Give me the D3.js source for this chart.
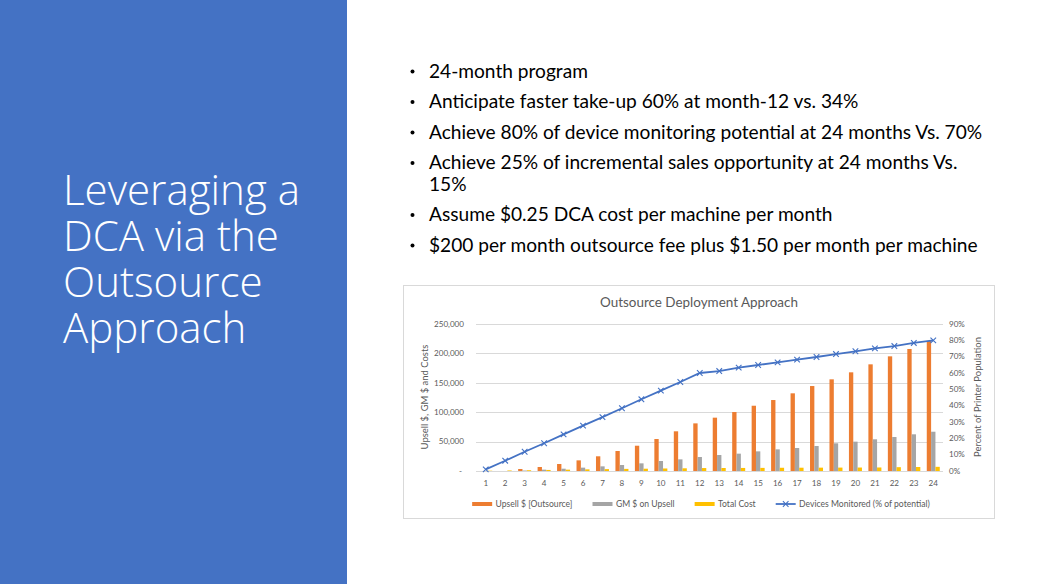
<!DOCTYPE html>
<html>
<head>
<meta charset="utf-8">
<script src="https://cdn.jsdelivr.net/npm/d3@7"></script>
<style>
  body { margin: 0; background: #fff; }
  svg { display: block; }
</style>
</head>
<body>
<svg id="slide"></svg>
<script>
// ---- data ----
const titleLines = ["Leveraging a", "DCA via the", "Outsource", "Approach"];
const bullets = [
  ["24-month program"],
  ["Anticipate faster take-up 60% at month-12 vs. 34%"],
  ["Achieve 80% of device monitoring potential at 24 months Vs. 70%"],
  ["Achieve 25% of incremental sales opportunity at 24 months Vs.", "15%"],
  ["Assume $0.25 DCA cost per machine per month"],
  ["$200 per month outsource fee plus $1.50 per month per machine"]
];

const chartTitle = "Outsource Deployment Approach";
const months = ["1","2","3","4","5","6","7","8","9","10","11","12",
                "13","14","15","16","17","18","19","20","21","22","23","24"];
const upsell = [0, 0, 3400, 6800, 11900, 18100, 25000, 34000, 43000, 54400, 67500, 81000,
                90700, 100300, 111000, 120700, 132100, 144500, 155900, 167800, 181400, 195000, 207500, 221000];
const gmUpsell = [0, 0, 800, 2300, 3900, 5700, 7900, 10200, 13000, 17000, 19800, 23800,
                  27200, 29500, 33400, 36800, 39100, 42500, 47100, 49900, 53900, 57800, 62400, 66800];
const totalCost = [500, 900, 1300, 1800, 2300, 2800, 3200, 3600, 3900, 4300, 4600, 5000,
                   5100, 5200, 5300, 5500, 5600, 5700, 5800, 5900, 6000, 6500, 6800, 7100];
const devicesPct = [0.010, 0.063, 0.118, 0.170, 0.224, 0.278, 0.330, 0.384, 0.439, 0.492, 0.545, 0.600,
                    0.612, 0.633, 0.649, 0.665, 0.682, 0.698, 0.716, 0.733, 0.751, 0.765, 0.784, 0.800];
const leftTicks = [0, 50000, 100000, 150000, 200000, 250000];
const rightTicks = [0, 0.1, 0.2, 0.3, 0.4, 0.5, 0.6, 0.7, 0.8, 0.9];
const seriesNames = ["Upsell $ [Outsource]", "GM $ on Upsell", "Total Cost", "Devices Monitored (% of potential)"];
const leftTitle = "Upsell $, GM $ and Costs";
const rightTitle = "Percent of Printer Population";

const colors = {upsell: "#ED7D31", gm: "#A5A5A5", cost: "#FFC000", line: "#4472C4"};
const txtGray = "#595959";
const bodyFont = "Lato, 'Open Sans', sans-serif";

const svg = d3.select("#slide").attr("width", 1043).attr("height", 584);

// font size that makes a string a given pixel width
function fitSize(str, target, family, weight) {
  const t = svg.append("text")
      .attr("font-family", family)
      .attr("font-weight", weight || 400)
      .attr("font-size", 100)
      .text(str);
  const w = t.node().getComputedTextLength();
  t.remove();
  return 100 * target / w;
}

// ---- left blue panel ----
svg.append("rect")
    .attr("x", 0).attr("y", 0)
    .attr("width", 347).attr("height", 584)
    .attr("fill", "#4472C4");

const titleFont = "'Open Sans', sans-serif";
const titleSize = fitSize(titleLines[0], 237, titleFont, 300);
// one text block, one line per tspan
svg.append("text")
    .attr("font-family", titleFont)
    .attr("font-weight", 300)
    .attr("font-size", titleSize)
    .attr("fill", "#fff")
    .selectAll("tspan")
    .data(titleLines)
    .join("tspan")
    .attr("x", 63)
    .attr("y", (d, i) => 205 + i * 46)
    .text(d => d);

// ---- bullets ----
const bulletSize = fitSize(bullets[5][0], 549, bodyFont, 400);
const gB = svg.append("g");
let by = 77.5;
bullets.forEach(lines => {
  gB.append("circle")
      .attr("cx", 412.5).attr("cy", by - 6)
      .attr("r", 2)
      .attr("fill", "#000");
  lines.forEach((ln, j) => {
    gB.append("text")
        .attr("x", 429).attr("y", by)
        .attr("font-family", bodyFont)
        .attr("font-size", bulletSize)
        .attr("fill", "#000")
        .text(ln);
    if (j < lines.length - 1) by += 21.5;
  });
  by += 30.5;
});

// ---- chart ----
svg.append("rect")
    .attr("x", 403.5).attr("y", 285.5)
    .attr("width", 591).attr("height", 233)
    .attr("fill", "#fff")
    .attr("stroke", "#d9d9d9");

svg.append("text")
    .attr("x", 699).attr("y", 307)
    .attr("text-anchor", "middle")
    .attr("font-family", bodyFont)
    .attr("font-size", fitSize(chartTitle, 198, bodyFont))
    .attr("fill", txtGray)
    .text(chartTitle);

const x0 = d3.scaleBand().domain(months).range([476, 943]);
const groupW = 13;
const x1 = d3.scaleBand().domain(["upsell", "gm", "cost"]).range([0, groupW]);
const yL = d3.scaleLinear().domain([0, 250000]).range([471, 324]);
const yR = d3.scaleLinear().domain([0, 0.9]).range([471, 324]);
const tickSize = fitSize("250,000", 30, bodyFont);

// gridlines
svg.append("g").selectAll("line")
    .data(leftTicks)
    .join("line")
    .attr("x1", 476).attr("x2", 943)
    .attr("y1", d => Math.round(yL(d)) + 0.5)
    .attr("y2", d => Math.round(yL(d)) + 0.5)
    .attr("stroke", "#d9d9d9");

// left tick labels
svg.append("g").selectAll("text")
    .data(leftTicks)
    .join("text")
    .attr("x", d => d === 0 ? 462 : 464)
    .attr("y", d => yL(d))
    .attr("dy", "0.35em")
    .attr("text-anchor", "end")
    .attr("font-family", bodyFont)
    .attr("font-size", tickSize)
    .attr("fill", txtGray)
    .text(d => d === 0 ? "-" : d3.format(",")(d));

// right tick labels
svg.append("g").selectAll("text")
    .data(rightTicks)
    .join("text")
    .attr("x", 949)
    .attr("y", d => yR(d))
    .attr("dy", "0.35em")
    .attr("font-family", bodyFont)
    .attr("font-size", tickSize)
    .attr("fill", txtGray)
    .text(d => d3.format(".0%")(d));

// x labels
svg.append("g").selectAll("text")
    .data(months)
    .join("text")
    .attr("x", d => x0(d) + x0.bandwidth() / 2)
    .attr("y", 483)
    .attr("dy", "0.35em")
    .attr("text-anchor", "middle")
    .attr("font-family", bodyFont)
    .attr("font-size", tickSize)
    .attr("fill", txtGray)
    .text(d => d);

// axis titles
const axTitleSize = fitSize(leftTitle, 105, bodyFont);
svg.append("text")
    .attr("transform", "translate(424,397) rotate(-90)")
    .attr("text-anchor", "middle")
    .attr("dominant-baseline", "central")
    .attr("font-family", bodyFont)
    .attr("font-size", axTitleSize)
    .attr("fill", txtGray)
    .text(leftTitle);
svg.append("text")
    .attr("transform", "translate(977,397) rotate(-90)")
    .attr("text-anchor", "middle")
    .attr("dominant-baseline", "central")
    .attr("font-family", bodyFont)
    .attr("font-size", axTitleSize)
    .attr("fill", txtGray)
    .text(rightTitle);

// bars
const barData = months.map((m, i) => ({
  m: m,
  vals: [
    {k: "upsell", v: upsell[i]},
    {k: "gm", v: gmUpsell[i]},
    {k: "cost", v: totalCost[i]}
  ]
}));
const pad = (x0.bandwidth() - groupW) / 2;
svg.append("g").selectAll("g")
    .data(barData)
    .join("g")
    .attr("transform", d => "translate(" + (x0(d.m) + pad) + ",0)")
    .selectAll("rect")
    .data(d => d.vals)
    .join("rect")
    .attr("x", d => x1(d.k))
    .attr("width", x1.bandwidth())
    .attr("y", d => yL(d.v))
    .attr("height", d => yL(0) - yL(d.v))
    .attr("fill", d => colors[d.k]);

// devices monitored line
const line = d3.line()
    .x((d, i) => x0(months[i]) + x0.bandwidth() / 2)
    .y(d => yR(d));
svg.append("path")
    .datum(devicesPct)
    .attr("d", line)
    .attr("fill", "none")
    .attr("stroke", colors.line)
    .attr("stroke-width", 1.8);
const xMark = "M-2.8,-2.8L2.8,2.8M-2.8,2.8L2.8,-2.8";
svg.append("g").selectAll("path")
    .data(devicesPct)
    .join("path")
    .attr("transform", (d, i) => "translate(" + (x0(months[i]) + x0.bandwidth() / 2) + "," + yR(d) + ")")
    .attr("d", xMark)
    .attr("stroke", colors.line)
    .attr("stroke-width", 1.1)
    .attr("fill", "none");

// legend
const legY = 504;
const legSize = fitSize(seriesNames[0], 77, bodyFont);
const gL = svg.append("g");
const items = seriesNames.map((n, i) => ({name: n, key: ["upsell", "gm", "cost", "line"][i]}));
items.forEach(it => {
  const t = gL.append("text").attr("font-family", bodyFont).attr("font-size", legSize).text(it.name);
  it.w = t.node().getComputedTextLength();
  t.remove();
});
const swW = 20, swGap = 3.4, itemGap = 20;
const totalW = d3.sum(items, it => swW + swGap + it.w) + itemGap * (items.length - 1);
let lx = 701 - totalW / 2;
items.forEach(it => {
  if (it.key === "line") {
    gL.append("line")
        .attr("x1", lx).attr("x2", lx + swW)
        .attr("y1", legY).attr("y2", legY)
        .attr("stroke", colors.line).attr("stroke-width", 1.8);
    gL.append("path")
        .attr("transform", "translate(" + (lx + swW / 2) + "," + legY + ")")
        .attr("d", xMark)
        .attr("stroke", colors.line).attr("stroke-width", 1.1);
  } else {
    gL.append("rect")
        .attr("x", lx).attr("y", legY - 2)
        .attr("width", swW).attr("height", 4)
        .attr("fill", colors[it.key]);
  }
  gL.append("text")
      .attr("x", lx + swW + swGap).attr("y", legY)
      .attr("dy", "0.35em")
      .attr("font-family", bodyFont)
      .attr("font-size", legSize)
      .attr("fill", txtGray)
      .text(it.name);
  lx += swW + swGap + it.w + itemGap;
});
</script>
</body>
</html>
